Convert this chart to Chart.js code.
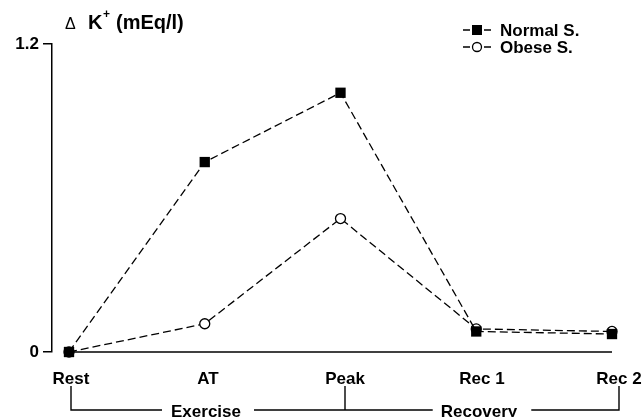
<!DOCTYPE html>
<html>
<head>
<meta charset="utf-8">
<script src="https://cdn.jsdelivr.net/npm/chart.js@4/dist/chart.umd.min.js"></script>
<style>
html,body{margin:0;padding:0;background:#fff;}
#wrap{width:644px;height:417px;position:relative;}
</style>
</head>
<body>
<div id="wrap"><canvas id="c" width="644" height="417"></canvas></div>
<script>
const categories = ['Rest', 'AT', 'Peak', 'Rec 1', 'Rec 2'];
const normalValues = [0, 0.74, 1.01, 0.08, 0.07];
const obeseValues = [0, 0.11, 0.52, 0.09, 0.08];
const yTicks = [0, 1.2];
const seriesNames = ['Normal S.', 'Obese S.'];
const phaseLabels = ['Exercise', 'Recovery'];

const FONT = '"Liberation Sans", Arial, sans-serif';

const toPoints = arr => arr.map((v, i) => ({x: i, y: v}));

const overlay = {
  id: 'overlay',
  afterDraw(chart) {
    const ctx = chart.ctx;
    const xs = chart.scales.xl;
    ctx.save();
    ctx.fillStyle = '#000';
    ctx.strokeStyle = '#000';
    // y-axis title
    ctx.textBaseline = 'alphabetic';
    ctx.textAlign = 'left';
    ctx.font = '16px ' + FONT;
    ctx.fillText('\u0394', 65, 29);
    ctx.font = 'bold 20px ' + FONT;
    ctx.fillText('K', 88, 29);
    ctx.font = 'bold 12px ' + FONT;
    ctx.fillText('+', 103, 18);
    ctx.font = 'bold 20px ' + FONT;
    ctx.fillText('(mEq/l)', 116, 29);

    // legend
    const rows = [{y: 30, type: 'rect'}, {y: 47, type: 'circle'}];
    rows.forEach((r, i) => {
      ctx.lineWidth = 1.4;
      ctx.setLineDash([]);
      ctx.beginPath();
      ctx.moveTo(463, r.y); ctx.lineTo(470, r.y);
      ctx.moveTo(484, r.y); ctx.lineTo(491, r.y);
      ctx.stroke();
      if (r.type === 'rect') {
        ctx.fillRect(472, r.y - 5, 10, 10);
      } else {
        ctx.beginPath();
        ctx.arc(477, r.y, 4.5, 0, Math.PI * 2);
        ctx.fillStyle = '#fff';
        ctx.fill();
        ctx.lineWidth = 1.3;
        ctx.stroke();
        ctx.fillStyle = '#000';
      }
      ctx.font = 'bold 17px ' + FONT;
      ctx.textBaseline = 'middle';
      ctx.fillText(seriesNames[i], 500, r.y + 1);
    });

    // phase brackets
    const x0 = xs.getPixelForValue(0);
    const x1 = xs.getPixelForValue(1);
    const x2 = xs.getPixelForValue(2);
    const x3 = xs.getPixelForValue(3);
    const x4 = xs.getPixelForValue(4);
    const yTop = 386, yB = 410;
    ctx.font = 'bold 17px ' + FONT;
    ctx.textAlign = 'center';
    ctx.textBaseline = 'middle';
    const w1 = ctx.measureText(phaseLabels[0]).width;
    const w2 = ctx.measureText(phaseLabels[1]).width;
    const gap = 11;
    ctx.lineWidth = 1.4;
    ctx.beginPath();
    ctx.moveTo(x0, yTop); ctx.lineTo(x0, yB); ctx.lineTo(x1 - w1 / 2 - gap, yB);
    ctx.moveTo(x1 + w1 / 2 + gap, yB); ctx.lineTo(x3 - w2 / 2 - gap, yB);
    ctx.moveTo(x2, yTop); ctx.lineTo(x2, yB);
    ctx.moveTo(x3 + w2 / 2 + gap, yB); ctx.lineTo(x4, yB); ctx.lineTo(x4, yTop);
    ctx.stroke();
    ctx.fillText(phaseLabels[0], x1 - 2, yB + 2);
    ctx.fillText(phaseLabels[1], x3 - 3, yB + 2);
    ctx.restore();
  }
};

new Chart(document.getElementById('c'), {
  type: 'line',
  data: {
    datasets: [
      {
        label: seriesNames[0],
        data: toPoints(normalValues),
        xAxisID: 'x', yAxisID: 'y',
        borderColor: '#000',
        borderWidth: 1.3,
        borderDash: [8, 4],
        pointStyle: 'rect',
        pointRadius: 7.3,
        pointBackgroundColor: '#000',
        pointBorderColor: '#000',
        pointBorderWidth: 0,
        tension: 0,
        clip: false,
        order: 0
      },
      {
        label: seriesNames[1],
        data: toPoints(obeseValues),
        xAxisID: 'x', yAxisID: 'y',
        borderColor: '#000',
        borderWidth: 1.3,
        borderDash: [8, 4],
        pointStyle: 'circle',
        pointRadius: 5,
        pointBackgroundColor: '#fff',
        pointBorderColor: '#000',
        pointBorderWidth: 1.3,
        tension: 0,
        clip: false,
        order: 1
      },
      {
        label: 'baseline',
        data: [{x: 0, y: 0}, {x: categories.length - 1, y: 0}],
        xAxisID: 'x', yAxisID: 'y',
        borderColor: '#000',
        borderWidth: 1.6,
        pointRadius: 0,
        tension: 0,
        clip: false,
        order: 5
      }
    ]
  },
  options: {
    responsive: false,
    animation: false,
    devicePixelRatio: 1,
    layout: {padding: {top: 44, right: 32, left: 0, bottom: 0}},
    plugins: {legend: {display: false}, tooltip: {enabled: false}},
    scales: {
      x: {
        type: 'linear',
        display: false,
        min: -0.1252,
        max: categories.length - 1
      },
      xl: {
        type: 'linear',
        position: 'bottom',
        axis: 'x',
        min: -0.1387,
        max: 3.9489,
        afterBuildTicks: s => { s.ticks = categories.map((c, i) => ({value: i})); },
        afterFit: s => { s.height = 65; s.paddingLeft = 0; s.paddingRight = 0; },
        grid: {display: false},
        border: {display: false},
        ticks: {
          autoSkip: false,
          maxRotation: 0,
          padding: 9,
          color: '#000',
          font: {family: FONT, size: 17, weight: 'bold'},
          callback: v => categories[v]
        }
      },
      y: {
        min: 0,
        max: 1.2,
        afterBuildTicks: s => { s.ticks = yTicks.map(v => ({value: v})); },
        afterFit: s => { s.width = 52; },
        grid: {drawOnChartArea: false, drawTicks: true, tickLength: 9, color: '#000', lineWidth: 1.5},
        border: {display: true, color: '#000', width: 1.5},
        ticks: {
          padding: 4,
          color: '#000',
          font: {family: FONT, size: 17, weight: 'bold'},
          callback: v => String(v)
        }
      }
    }
  },
  plugins: [overlay]
});
</script>
</body>
</html>
